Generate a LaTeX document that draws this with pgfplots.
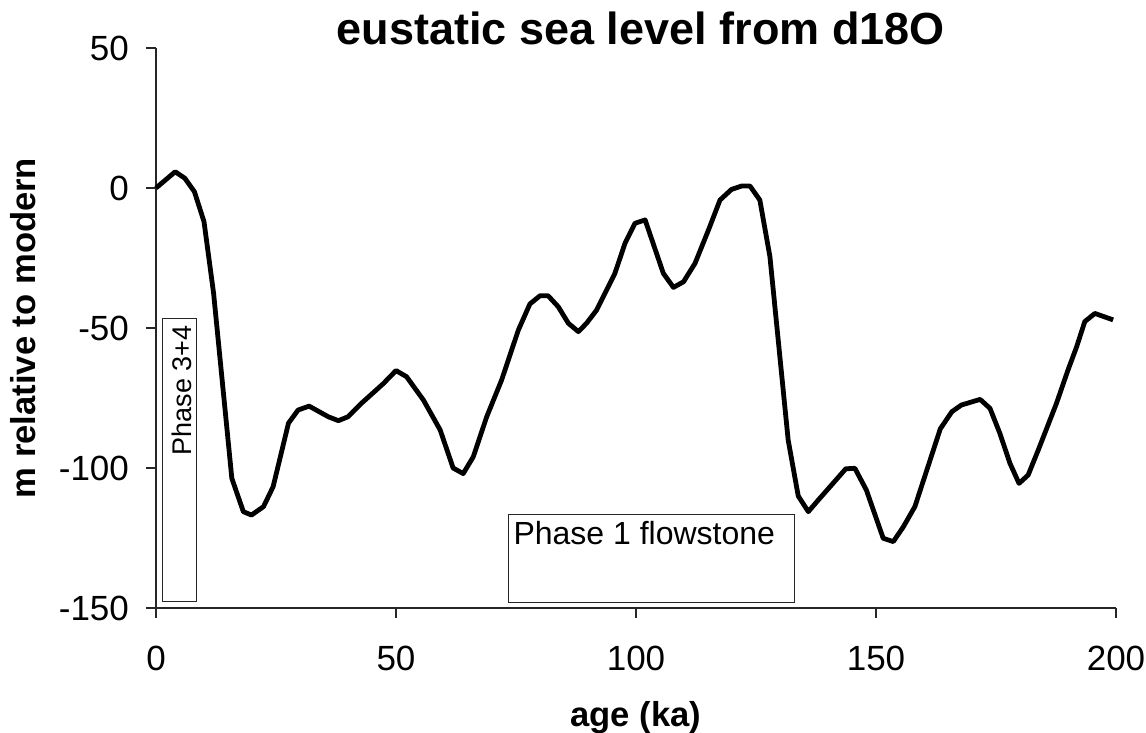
\documentclass[border=0pt]{standalone}
\usepackage{fontspec}
\setmainfont{Liberation Sans}
\usepackage{pgfplots}
\pgfplotsset{compat=1.18}
\begin{document}
\begin{tikzpicture}
\useasboundingbox (-78pt,-62.5pt) rectangle (495pt,304pt);
\begin{axis}[
  at={(0,0)}, anchor=south west,
  scale only axis, width=480pt, height=280pt,
  xmin=0, xmax=200, ymin=-150, ymax=50,
  axis lines=left, axis line style={-, line width=0.6pt, black!85},
  xtick={0,50,...,200}, ytick={-150,-100,...,50},
  tick align=outside, major tick length=5pt,
  tick style={line width=0.6pt, black!85},
  /pgf/number format/assume math mode=true,
  ticklabel style={font=\fontsize{17.5}{20}\selectfont},
  xticklabel style={yshift=-10.5pt},
  yticklabel style={xshift=-5pt},
  clip=false,
  title={eustatic sea level from d18O},
  title style={font=\bfseries\fontsize{22.5}{27}\selectfont, at={(axis description cs:0.505,1.0125)}, anchor=base, inner sep=0pt, yshift=-8pt},
  xlabel={age (ka)}, ylabel={m relative to modern},
  xlabel style={font=\bfseries\fontsize{17.3}{20}\selectfont, at={(axis description cs:0.5,-0.2125)}, anchor=base, inner sep=0pt},
  ylabel style={font=\bfseries\fontsize{17.3}{20}\selectfont, at={(axis description cs:-0.125,0.5)}, anchor=base, inner sep=0pt},
]
\addplot[black, line width=2.4pt, line join=round] table {
x y
0 0
4 5.8
6 3.5
8 -1.3
10 -12
12 -37.6
15.8 -103.7
18.2 -115.6
19.9 -116.8
22.4 -113.8
24.4 -106.7
27.6 -84
29.6 -79.3
31.9 -77.9
35.9 -81.7
38 -83.1
40 -81.7
42.8 -76.9
47.4 -69.8
50 -65.2
52.2 -67.4
55.7 -75.7
59.2 -86.4
61.9 -100
64 -102
66.1 -96
68.9 -81.7
72 -68.6
75.5 -50.7
77.9 -41.4
80 -38.5
81.7 -38.5
83.8 -42.4
85.9 -48.3
88 -51.3
89.7 -48.3
91.8 -43.6
95.6 -30.5
97.7 -19.8
99.8 -12.6
101.9 -11.4
105.7 -30.5
107.8 -35.5
109.9 -33.5
112.3 -26.9
115.1 -15
117.5 -4.3
119.9 -0.5
122 0.7
123.75 0.7
125.8 -4.3
127.9 -24.5
131.7 -90
133.8 -110
135.9 -115.6
138 -111.4
143.7 -100.3
145.6 -100.1
148 -107.9
151.5 -125.1
153.6 -126.3
155.7 -121
158.1 -113.8
163.4 -86
165.8 -79.9
167.8 -77.5
171.7 -75.5
173.75 -78.7
175.8 -87.6
177.9 -98.3
179.8 -105.5
181.7 -102.5
183.8 -93.6
187.6 -76.9
190 -65
191.8 -56.7
193.5 -47.7
195.6 -44.8
199.4 -47.1
};
\draw[line width=0.6pt, black!85] (axis cs:1.4,-46.5) rectangle (axis cs:8.5,-147.75);
\draw[line width=0.6pt, black!85] (axis cs:73.4,-116.5) rectangle (axis cs:133.1,-148);
\node[rotate=90, anchor=base east, inner sep=0pt, font=\fontsize{13.5}{16}\selectfont] at (axis cs:7.4,-49) {Phase 3+4};
\node[anchor=base west, inner sep=0pt, font=\fontsize{16}{19}\selectfont] at (axis cs:74.4,-127.5) {Phase 1 flowstone};
\end{axis}
\end{tikzpicture}
\end{document}
